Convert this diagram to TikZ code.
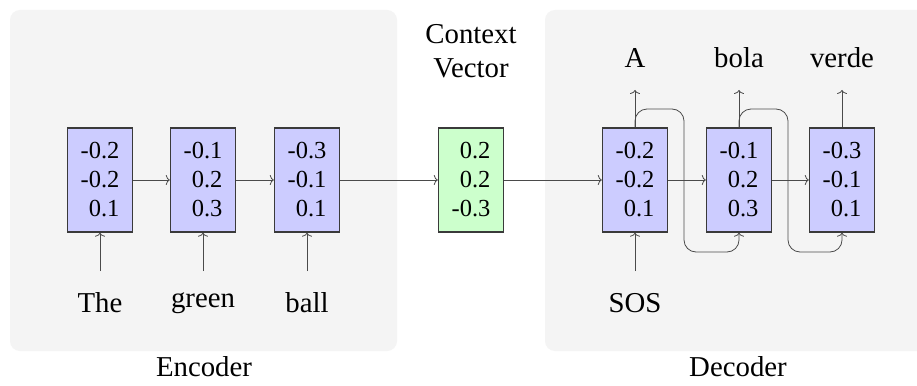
\documentclass[tikz,border=0pt]{standalone}
\usepackage{fontspec}
\setmainfont{Liberation Serif}
\usetikzlibrary{arrows.meta}
\definecolor{panelgray}{HTML}{F4F4F4}
\definecolor{cellblue}{HTML}{CCCCFF}
\definecolor{cellgreen}{HTML}{CCFFCC}
\definecolor{edgegray}{HTML}{3A3A3A}
\definecolor{linegray}{HTML}{4A4A4A}
\begin{document}
\begin{tikzpicture}[x=1pt,y=-1pt,
  panel/.style={fill=panelgray,rounded corners=10pt},
  cell/.style={draw=edgegray,line width=1.4pt,minimum width=65pt,minimum height=104pt,
    inner sep=0pt,align=right,font=\fontsize{24.5}{29}\selectfont},
  enc/.style={cell,fill=cellblue},
  ctx/.style={cell,fill=cellgreen},
  word/.style={font=\fontsize{28.8}{34.6}\selectfont},
  caption/.style={font=\fontsize{28.8}{34.6}\selectfont,align=center,inner sep=0pt},
  conn/.style={draw=linegray,line width=0.8pt,-{To[length=4pt,width=10pt]}},
  loopback/.style={conn,rounded corners=12pt}]
  \path[use as bounding box] (0,0) rectangle (917,385);
  \clip (0,0) rectangle (917,385);
  \fill[white] (0,0) rectangle (917,385);

  % encoder and decoder panels
  \fill[panel] (10,10) rectangle (397,351);
  \fill[panel] (545,10) rectangle (931,351);
  \node[caption] (enclabel) at (204,367) {Encoder};
  \node[caption] (declabel) at (738,367) {Decoder};

  % encoder states
  \node[enc] (e1) at (100,180) {-0.2\\-0.2\\0.1};
  \node[enc] (e2) at (203,180) {-0.1\\0.2\\0.3};
  \node[enc] (e3) at (307,180) {-0.3\\-0.1\\0.1};

  % context vector
  \node[ctx] (cv) at (471,180) {0.2\\0.2\\-0.3};
  \node[caption] (cvlabel) at (471,51) {Context\\Vector};

  % decoder states
  \node[enc] (d1) at (635,180) {-0.2\\-0.2\\0.1};
  \node[enc] (d2) at (739,180) {-0.1\\0.2\\0.3};
  \node[enc] (d3) at (842,180) {-0.3\\-0.1\\0.1};

  % input words
  \node[word] (w1) at (100,303) {The};
  \node[word] (w2) at (203,303) {green};
  \node[word] (w3) at (307,303) {ball};
  \node[word] (w4) at (635,303) {SOS};
  \coordinate (i1) at (100,271);
  \coordinate (i2) at (203,271);
  \coordinate (i3) at (307,271);
  \coordinate (i4) at (635,271);

  % output words
  \node[word] (y1) at (635,58) {A};
  \node[word] (y2) at (739,58) {bola};
  \node[word] (y3) at (842,58) {verde};
  \coordinate (o1) at (635,90);
  \coordinate (o2) at (739,90);
  \coordinate (o3) at (842,90);

  % recurrent connections
  \draw[conn] (e1.east) -- (e2.west);
  \draw[conn] (e2.east) -- (e3.west);
  \draw[conn] (e3.east) -- (cv.west);
  \draw[conn] (cv.east) -- (d1.west);
  \draw[conn] (d1.east) -- (d2.west);
  \draw[conn] (d2.east) -- (d3.west);

  % inputs
  \draw[conn] (i1) -- (e1.south);
  \draw[conn] (i2) -- (e2.south);
  \draw[conn] (i3) -- (e3.south);
  \draw[conn] (i4) -- (d1.south);

  % outputs
  \draw[conn] (d1.north) -- (o1);
  \draw[conn] (d2.north) -- (o2);
  \draw[conn] (d3.north) -- (o3);

  % each output fed back as the next input
  \coordinate (k1a) at (684,109);
  \coordinate (k1b) at (684,252);
  \coordinate (k2a) at (788,109);
  \coordinate (k2b) at (788,252);
  \draw[loopback] (d1.north) |- (k1a) -- (k1b) -| (d2.south);
  \draw[loopback] (d2.north) |- (k2a) -- (k2b) -| (d3.south);
\end{tikzpicture}
\end{document}
